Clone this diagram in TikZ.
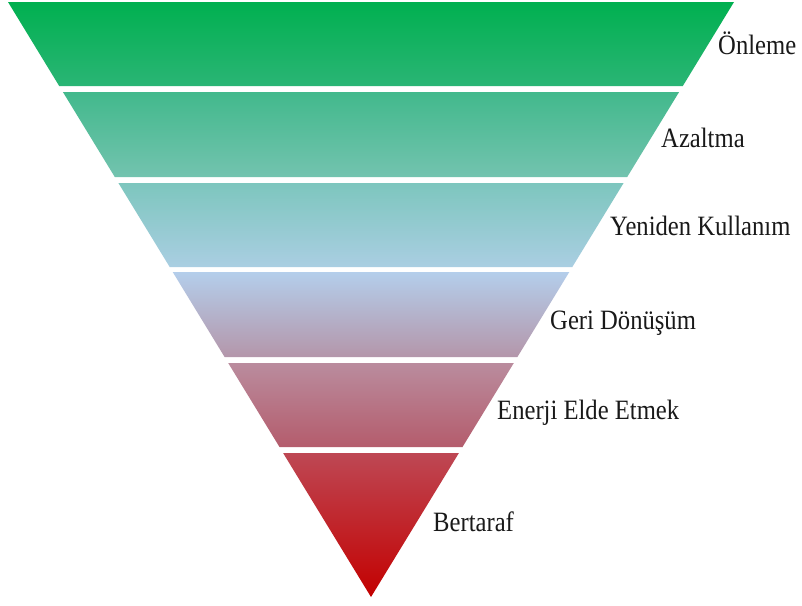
\documentclass[tikz,border=0pt]{standalone}
\usepackage{fontspec}
\setmainfont{Liberation Serif}
\usepackage{tikz}
\definecolor {onlemetop}{RGB}{0,176,80}
\definecolor {onlemebot}{RGB}{42,181,117}
\definecolor {azaltmatop}{RGB}{66,185,140}
\definecolor {azaltmabot}{RGB}{115,195,175}
\definecolor {yenidentop}{RGB}{125,198,190}
\definecolor {yenidenbot}{RGB}{170,206,226}
\definecolor {geritop}{RGB}{180,206,235}
\definecolor {geribot}{RGB}{180,150,170}
\definecolor {enerjitop}{RGB}{186,140,158}
\definecolor {enerjibot}{RGB}{180,92,108}
\definecolor {bertaraftop}{RGB}{190,72,84}
\definecolor {bertarafbot}{RGB}{195,0,0}

\begin{document}
\begin{tikzpicture}[x =1pt ,y =-1pt ,
		lbl/.style ={ anchor =base west ,inner sep =0pt ,text =black!90 ,
			font =\fontsize{28}{30}\selectfont}]
		\useasboundingbox[fill=white] (0,0) rectangle (802,605);
		% bands of the hierarchy
		\shade[top color =onlemetop ,bottom color =onlemebot] (8,2) -- (734,2) -- (682.8,86) -- (59.2,86) -- cycle;
		\shade[top color =azaltmatop ,bottom color =azaltmabot] (62.9,92) -- (679.1,92) -- (627.2,177) -- (114.8,177) -- cycle;
		\shade[top color =yenidentop ,bottom color =yenidenbot] (118.4,183) -- (623.6,183) -- (572.3,267) -- (169.7,267) -- cycle;
		\shade[top color =geritop ,bottom color =geribot] (172.7,272) -- (569.3,272) -- (517.4,357) -- (224.6,357) -- cycle;
		\shade[top color =enerjitop ,bottom color =enerjibot] (228.2,363) -- (513.8,363) -- (462.5,447) -- (279.5,447) -- cycle;
		\shade[top color =bertaraftop ,bottom color =bertarafbot] (283.1,453) -- (458.9,453) -- (371,597) -- cycle;
		% labels
		\node[lbl] (onleme) at (718,54) {\scalebox{0.88}[1]{Önleme}};
		\node[lbl] (azaltma) at (661,147) {\scalebox{0.88}[1]{Azaltma}};
		\node[lbl] (yeniden) at (610,235) {\scalebox{0.88}[1]{Yeniden Kullanım}};
		\node[lbl] (geri) at (550,329) {\scalebox{0.88}[1]{Geri Dönüşüm}};
		\node[lbl] (enerji) at (497,419) {\scalebox{0.88}[1]{Enerji Elde Etmek}};
		\node[lbl] (bertaraf) at (433,531) {\scalebox{0.88}[1]{Bertaraf}};
	\end{tikzpicture}
\end{document}
